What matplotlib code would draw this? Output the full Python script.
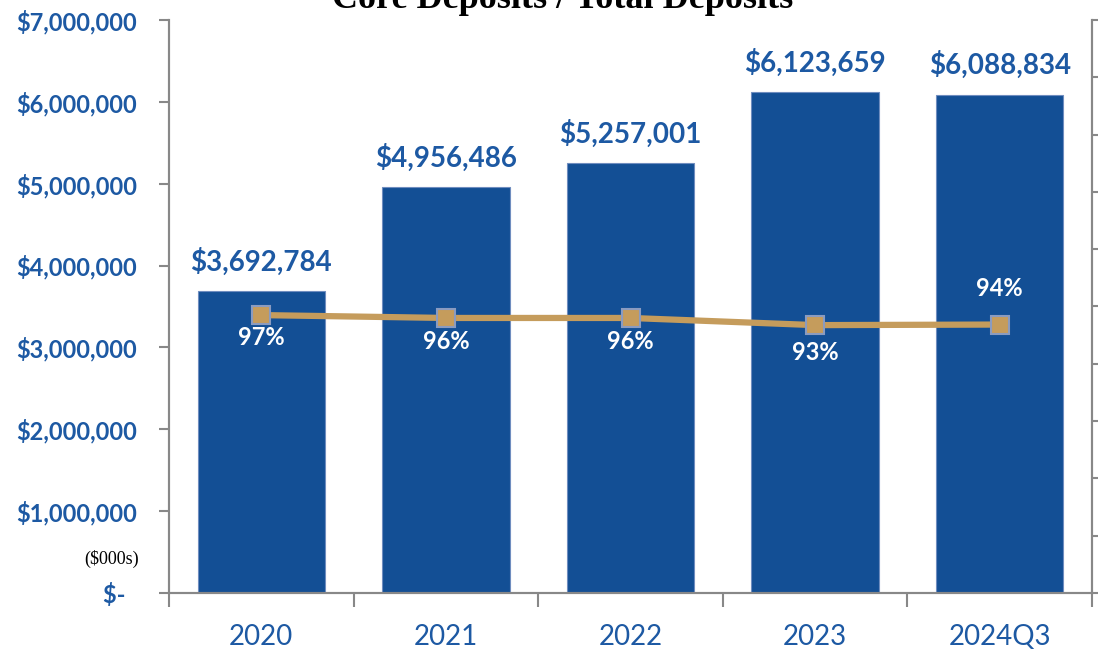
import matplotlib
matplotlib.use("Agg")
import matplotlib.pyplot as plt
from matplotlib.ticker import FuncFormatter, MultipleLocator

categories = ["2020", "2021", "2022", "2023", "2024Q3"]
deposits = [3692784, 4956486, 5257001, 6123659, 6088834]
core_ratio = [0.97, 0.96, 0.96, 0.935, 0.937]
ratio_labels = ["97%", "96%", "96%", "93%", "94%"]
ratio_label_offsets = [-16, -17, -17, -20, 26]

BAR = "#134F95"
TXT = "#1D59A3"
LINE = "#C59C5C"

fig = plt.figure(figsize=(11.03, 6.49), dpi=100)
ax = fig.add_axes([169/1103, 1-593/649, (1092-169)/1103, (593-20)/649])
x = list(range(len(categories)))
ax.bar(x, deposits, width=0.69, color=BAR, edgecolor="#6F8DBF", linewidth=0.8, zorder=2)
ax.set_xlim(-0.5, len(categories) - 0.5)
ax.set_ylim(0, 7000000)
ax.yaxis.set_major_locator(MultipleLocator(1000000))

def fmt(v, pos):
    if v == 0:
        return "$-  "
    return "${:,.0f}".format(v)

ax.yaxis.set_major_formatter(FuncFormatter(fmt))
ax.tick_params(axis="y", colors="#888888", labelcolor=TXT, labelsize=17, length=7, width=1.5, pad=16)
for t in ax.yaxis.get_major_ticks():
    t.label1.set_fontweight("bold")
    t.label1.set_fontfamily("Lato")

ax.set_xticks([i - 0.5 for i in range(len(categories) + 1)], minor=False)
ax.set_xticklabels([])
ax.set_xticks(x, minor=True)
ax.set_xticklabels(categories, minor=True, fontsize=20, color=TXT, fontfamily="Lato")
ax.tick_params(axis="x", which="major", colors="#888888", length=10, width=1.5)
ax.tick_params(axis="x", which="minor", length=0, pad=22)

ax.spines["top"].set_visible(False)
for s in ["left", "bottom", "right"]:
    ax.spines[s].set_color("#888888")
    ax.spines[s].set_linewidth(1.5)

for xi, v in zip(x, deposits):
    ax.annotate("${:,.0f}".format(v), (xi, v), xytext=(0, 11), textcoords="offset points",
                ha="center", va="bottom", fontsize=20, fontweight="bold", color=TXT,
                fontfamily="Lato")

ax2 = ax.twinx()
ax2.set_ylim(0, 2.0)
ax2.yaxis.set_major_locator(MultipleLocator(0.2))
ax2.set_yticklabels([])
ax2.tick_params(axis="y", colors="#888888", length=4, width=1.5)
ax2.spines["top"].set_visible(False)
for s in ["left", "bottom", "right"]:
    ax2.spines[s].set_color("#888888")
    ax2.spines[s].set_linewidth(1.5)
ax2.plot(x, core_ratio, color=LINE, linewidth=4.5, marker="s", markersize=13,
         markerfacecolor=LINE, markeredgecolor="#8A9BC0", markeredgewidth=1.5, zorder=3)
for xi, v, lab, off in zip(x, core_ratio, ratio_labels, ratio_label_offsets):
    ax2.annotate(lab, (xi, v), xytext=(0, off), textcoords="offset points",
                 ha="center", va="center", fontsize=17, fontweight="bold", color="white",
                 fontfamily="Lato")

fig.text(563/1103, 1-8/649, "Core Deposits / Total Deposits", ha="center", va="baseline",
         fontsize=26, fontweight="bold", fontfamily="Liberation Serif", color="black")
fig.text(112/1103, 1-559/649, "($000s)", ha="center", va="center", fontsize=13,
         fontfamily="Liberation Serif", color="black")

fig.savefig("out.png", dpi=100)
